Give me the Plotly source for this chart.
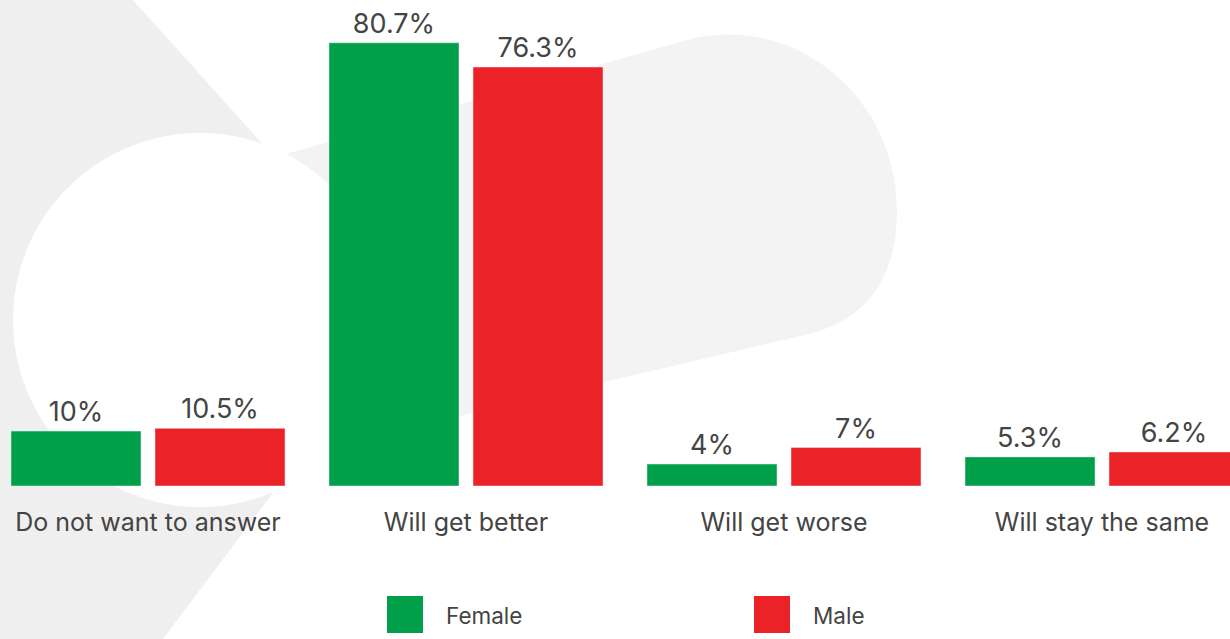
import plotly.graph_objects as go

categories = ["Do not want to answer", "Will get better", "Will get worse", "Will stay the same"]
series_names = ["Female", "Male"]
female_values = [10, 80.7, 4, 5.3]
male_values = [10.5, 76.3, 7, 6.2]
value_labels_female = ["10%", "80.7%", "4%", "5.3%"]
value_labels_male = ["10.5%", "76.3%", "7%", "6.2%"]

GREEN = "#009f4a"
RED = "#ec2229"
TEXT = "#444444"
FONT = "Inter"

W, PH = 1230, 486  # figure width, plot-area height (pixels)


def px(x):
    return x / W


def py(y):
    return (PH - y) / PH


fig = go.Figure()
fig.add_trace(go.Bar(x=categories, y=female_values, name=series_names[0], marker_color=GREEN,
                     text=value_labels_female, textposition="outside", cliponaxis=False,
                     textfont=dict(size=27, color=TEXT, family=FONT), showlegend=False,
                     hoverinfo="skip"))
fig.add_trace(go.Bar(x=categories, y=male_values, name=series_names[1], marker_color=RED,
                     text=value_labels_male, textposition="outside", cliponaxis=False,
                     textfont=dict(size=27, color=TEXT, family=FONT), showlegend=False,
                     hoverinfo="skip"))

shapes = []
# background chevron (light grey)
chev = [(0, 0), (133, 0), (411, 309), (163, 639), (0, 639)]
chev_path = "M " + " L ".join(f"{px(a):.5f},{py(b):.5f}" for a, b in chev) + " Z"
shapes.append(dict(type="path", xref="paper", yref="paper", layer="below",
                   path=chev_path, fillcolor="#efefef", line=dict(width=0)))
# background pill (lighter grey)
pill_path = f"M {px(180):.5f},{py(184):.5f} L {px(680):.5f},{py(42):.5f}"
pill_path += f" C {px(790):.5f},{py(8):.5f} {px(897):.5f},{py(95):.5f} {px(897):.5f},{py(210):.5f}"
pill_path += f" C {px(897):.5f},{py(280):.5f} {px(865):.5f},{py(318):.5f} {px(813):.5f},{py(333):.5f}"
pill_path += f" L {px(230):.5f},{py(470):.5f} Z"
shapes.append(dict(type="path", xref="paper", yref="paper", layer="below",
                   path=pill_path, fillcolor="#f3f3f3", line=dict(width=0)))
# white circle over them
shapes.append(dict(type="circle", xref="paper", yref="paper", layer="below",
                   x0=px(13), x1=px(387), y0=py(133), y1=py(507),
                   fillcolor="#ffffff", line=dict(width=0)))

# legend squares
legend_sq = [(387, 423), (754, 790)]
colors = [GREEN, RED]
annotations = []
for (x0, x1), c, name in zip(legend_sq, colors, series_names):
    shapes.append(dict(type="rect", xref="paper", yref="paper",
                       x0=px(x0), x1=px(x1), y0=py(596), y1=py(633),
                       fillcolor=c, line=dict(width=0)))
    annotations.append(dict(xref="paper", yref="paper", x=px(x1 + 21), y=py(615),
                            xanchor="left", yanchor="middle", showarrow=False,
                            text=name, font=dict(size=22.5, color=TEXT, family=FONT)))

fig.update_layout(
    width=1230, height=639,
    margin=dict(l=0, r=0, t=0, b=153),
    paper_bgcolor="#ffffff", plot_bgcolor="rgba(0,0,0,0)",
    barmode="group", bargap=0.0943, bargroupgap=0.0972,
    shapes=shapes, annotations=annotations,
    xaxis=dict(range=[-0.4654, 3.4025], showgrid=False, zeroline=False, showline=False,
               ticks="outside", ticklen=14, tickcolor="rgba(0,0,0,0)",
               tickfont=dict(size=25, color=TEXT, family=FONT), fixedrange=True),
    yaxis=dict(range=[0, 88.5], visible=False, showgrid=False, fixedrange=True),
    showlegend=False,
)

fig.write_html("out.html", config={"displayModeBar": False},
               post_script="document.body.style.margin='0';document.body.style.overflow='hidden';")
